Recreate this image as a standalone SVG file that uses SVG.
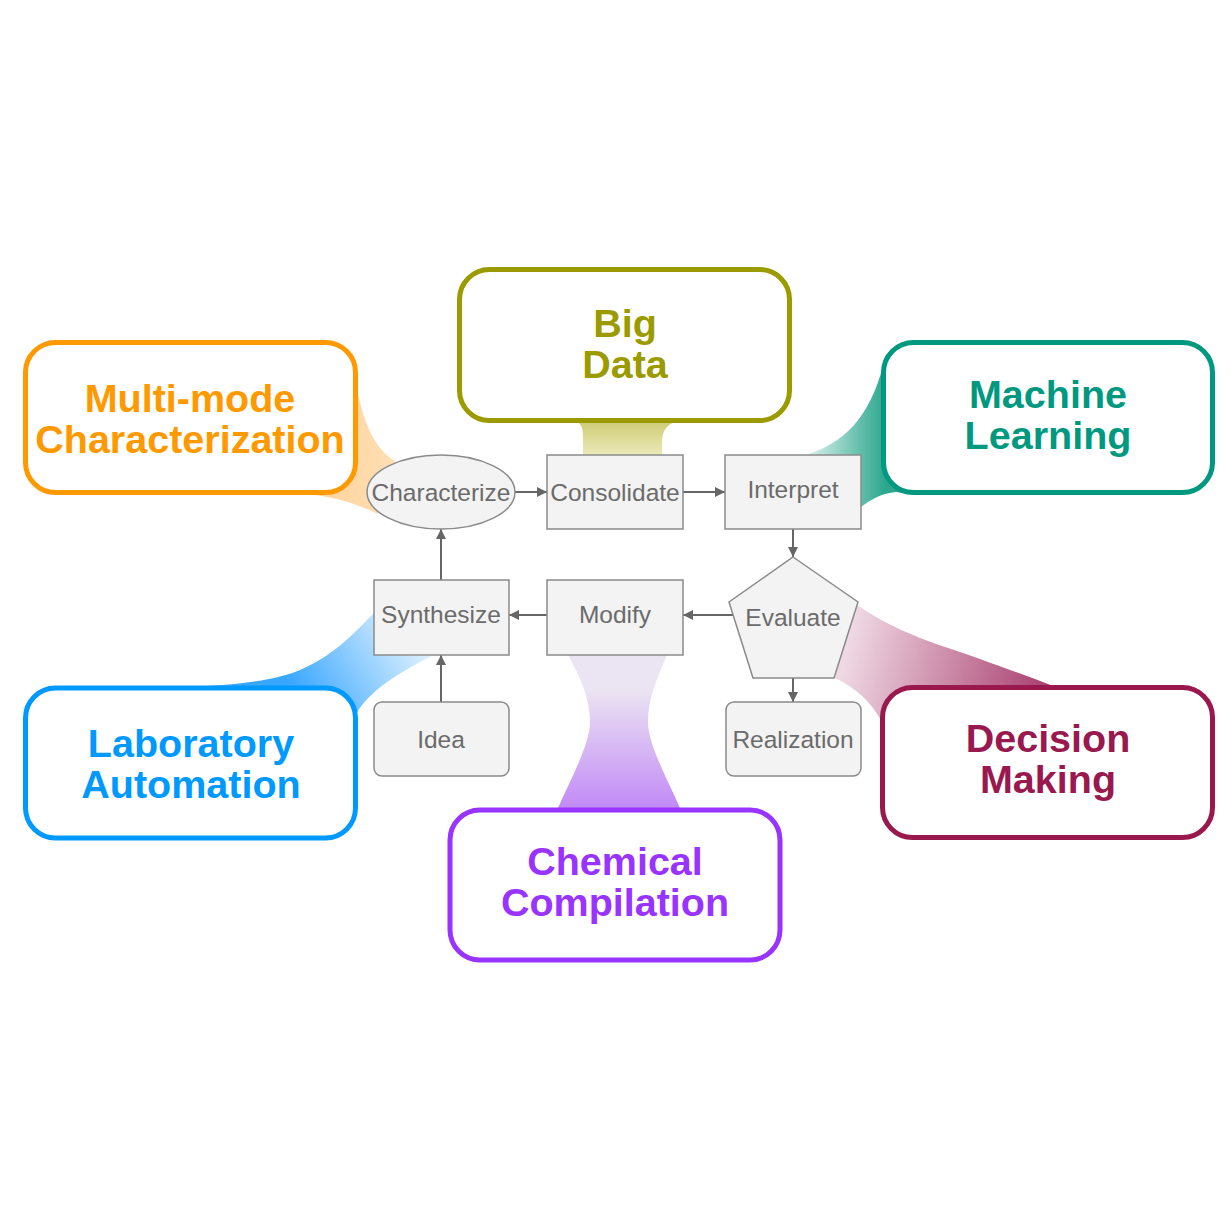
<svg xmlns="http://www.w3.org/2000/svg" width="1230" height="1230" viewBox="0 0 1230 1230">
<style>
.theme{fill:#fff;stroke-width:5}
.ttl{font-family:"Liberation Sans",Arial,sans-serif;font-weight:bold;font-size:39.5px;text-anchor:middle}
.step{fill:#f3f3f3;stroke:#8a8a8a;stroke-width:1.5}
.lbl{font-family:"Liberation Sans",Arial,sans-serif;font-size:24.5px;fill:#6b6b6b;text-anchor:middle}
.conn{stroke:#666;stroke-width:2;fill:none;marker-end:url(#ah)}
</style>
<defs>
<marker id="ah" markerUnits="userSpaceOnUse" markerWidth="11" markerHeight="11" refX="10" refY="5" orient="auto"><path d="M0,0 L10,5 L0,10 z" fill="#666"/></marker>
<linearGradient id="gOr" x1="0" y1="0" x2="1" y2="0"><stop offset="0" stop-color="#ffd197"/><stop offset="1" stop-color="#ffdfb5"/></linearGradient>
<linearGradient id="gOl" x1="0" y1="0" x2="0" y2="1"><stop offset="0" stop-color="#cdca72"/><stop offset="1" stop-color="#ecebba"/></linearGradient>
<linearGradient id="gTe" gradientUnits="userSpaceOnUse" x1="805" y1="0" x2="885" y2="0"><stop offset="0" stop-color="#e2f4f0"/><stop offset="1" stop-color="#2ca78e"/></linearGradient>
<linearGradient id="gMa" gradientUnits="userSpaceOnUse" x1="850" y1="640" x2="1055" y2="690"><stop offset="0" stop-color="#efd8e3"/><stop offset="1" stop-color="#a6396b"/></linearGradient>
<linearGradient id="gBl" gradientUnits="userSpaceOnUse" x1="300" y1="700" x2="420" y2="625"><stop offset="0" stop-color="#3aa7ff"/><stop offset="1" stop-color="#eaf6ff"/></linearGradient>
<linearGradient id="gPu" gradientUnits="userSpaceOnUse" x1="0" y1="690" x2="0" y2="808"><stop offset="0" stop-color="#ebe4f2"/><stop offset="1" stop-color="#c18af6"/></linearGradient>
</defs>
<rect width="1230" height="1230" fill="#fff"/>
<g id="funnels">
<path d="M354,372 C362,420 372,448 398,463 L378,514 C352,502 335,497 305,494 L305,372 Z" fill="url(#gOr)"/>
<path d="M572,420 C584,422 583,432 583,442 L583,456 L662,456 L662,442 C662,430 668,422 682,420 Z" fill="url(#gOl)"/>
<path d="M800,456 C845,446 870,415 883,366 L910,366 L910,494 L896,492 C882,493 870,500 861,507 L861,456 Z" fill="url(#gTe)"/>
<path d="M850,600 C885,625 912,636 960,652 C1000,666 1030,677 1058,688 L1058,722 L882,722 C870,700 855,688 835,678 Z" fill="url(#gMa)"/>
<path d="M165,688 C230,686 275,681 300,670 C335,655 355,632 375,612 L375,655 L432,656 C400,672 370,690 356,714 L330,714 L330,688 Z" fill="url(#gBl)"/>
<path d="M568,655 C582,680 590,700 590,722 C590,745 570,780 558,808 L680,808 C668,780 648,745 648,722 C648,700 656,680 667,655 Z" fill="url(#gPu)"/>
</g>
<g id="theme-multimode">
<rect class="theme" x="25.5" y="342.5" width="330" height="150" rx="30" stroke="#ff9900"/>
<text class="ttl" fill="#ff9900" x="190" y="412">Multi-mode</text>
<text class="ttl" fill="#ff9900" x="190" y="453">Characterization</text>
</g>
<g id="theme-bigdata">
<rect class="theme" x="459.5" y="269.5" width="330" height="151" rx="30" stroke="#9b9b00"/>
<text class="ttl" fill="#9b9b00" x="625" y="337">Big</text>
<text class="ttl" fill="#9b9b00" x="625" y="378">Data</text>
</g>
<g id="theme-ml">
<rect class="theme" x="883.5" y="342.5" width="329" height="150" rx="30" stroke="#009980"/>
<text class="ttl" fill="#009980" x="1048" y="408">Machine</text>
<text class="ttl" fill="#009980" x="1048" y="449">Learning</text>
</g>
<g id="theme-lab">
<rect class="theme" x="25.5" y="688" width="330" height="150" rx="30" stroke="#0099ff"/>
<text class="ttl" fill="#0099ff" x="191" y="757">Laboratory</text>
<text class="ttl" fill="#0099ff" x="191" y="798">Automation</text>
</g>
<g id="theme-chem">
<rect class="theme" x="450" y="810" width="330" height="150" rx="30" stroke="#9933ff"/>
<text class="ttl" fill="#9933ff" x="615" y="875">Chemical</text>
<text class="ttl" fill="#9933ff" x="615" y="916">Compilation</text>
</g>
<g id="theme-decision">
<rect class="theme" x="882.5" y="687.5" width="330" height="150" rx="30" stroke="#99194f"/>
<text class="ttl" fill="#99194f" x="1048" y="752">Decision</text>
<text class="ttl" fill="#99194f" x="1048" y="793">Making</text>
</g>
<g id="connectors">
<path class="conn" d="M515,492 H547"/>
<path class="conn" d="M683,492 H725"/>
<path class="conn" d="M793,529 V557"/>
<path class="conn" d="M733,615 H683"/>
<path class="conn" d="M547,615 H509"/>
<path class="conn" d="M441,580 V529"/>
<path class="conn" d="M441,702 V655"/>
<path class="conn" d="M793,678 V702"/>
</g>
<g id="node-characterize">
<ellipse class="step" cx="441" cy="492" rx="74" ry="37"/>
<text class="lbl" x="441" y="501">Characterize</text>
</g>
<g id="node-consolidate">
<rect class="step" x="547" y="455" width="136" height="74"/>
<text class="lbl" x="615" y="501">Consolidate</text>
</g>
<g id="node-interpret">
<rect class="step" x="725" y="455" width="136" height="74"/>
<text class="lbl" x="793" y="498">Interpret</text>
</g>
<g id="node-evaluate">
<polygon class="step" points="793,557 858,602 834,678 753,678 729,602"/>
<text class="lbl" x="793" y="626">Evaluate</text>
</g>
<g id="node-modify">
<rect class="step" x="547" y="580" width="136" height="75"/>
<text class="lbl" x="615" y="623">Modify</text>
</g>
<g id="node-synthesize">
<rect class="step" x="374" y="580" width="135" height="75"/>
<text class="lbl" x="441" y="623">Synthesize</text>
</g>
<g id="node-idea">
<rect class="step" x="374" y="702" width="135" height="74" rx="8"/>
<text class="lbl" x="441" y="748">Idea</text>
</g>
<g id="node-realization">
<rect class="step" x="726" y="702" width="135" height="74" rx="8"/>
<text class="lbl" x="793" y="748">Realization</text>
</g>
</svg>
